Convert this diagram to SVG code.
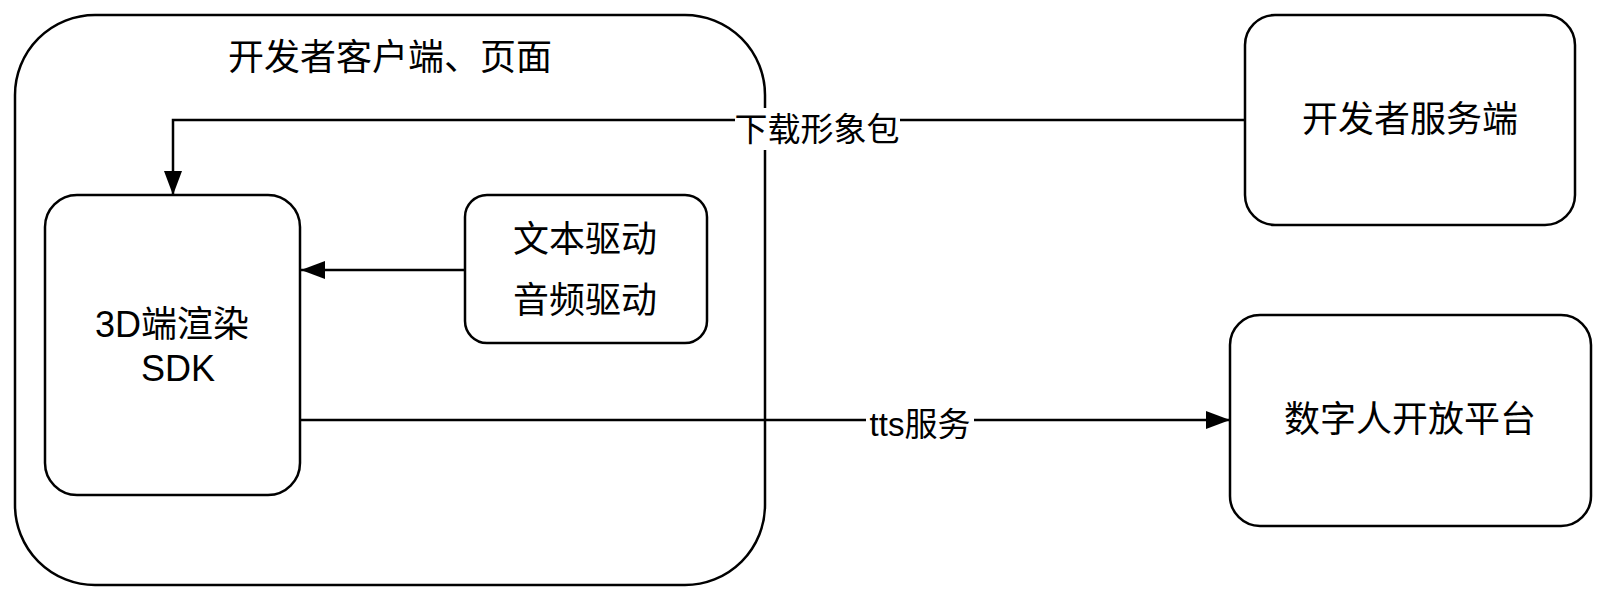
<svg xmlns="http://www.w3.org/2000/svg" width="1610" height="605" viewBox="0 0 1610 605">
  <defs>
    <style>
      .box { fill: #ffffff; stroke: #000000; stroke-width: 2.5; }
      .t { font-family: "Liberation Sans", "Noto Sans CJK SC", sans-serif; font-size: 36px; fill: #000000; text-anchor: middle; }
      .lbl { font-family: "Liberation Sans", "Noto Sans CJK SC", sans-serif; font-size: 33px; fill: #000000; text-anchor: middle; }
      .edge { fill: none; stroke: #000000; stroke-width: 2.5; }
      .lblbg { fill: #ffffff; stroke: none; }
    </style>
    <marker id="arrow" viewBox="0 0 24 18" refX="24" refY="9" markerWidth="24" markerHeight="18" markerUnits="userSpaceOnUse" orient="auto">
      <path d="M0,0 L24,9 L0,18 Z" fill="#000000"/>
    </marker>
  </defs>

  <g id="client">
    <rect class="box" x="15" y="15" width="750" height="570" rx="80" ry="80"/>
    <text class="t" x="390" y="70">开发者客户端、页面</text>
  </g>

  <g id="sdk">
    <rect class="box" x="45" y="195" width="255" height="300" rx="32" ry="32"/>
    <text class="t" x="172" y="337">3D端渲染</text>
    <text class="t" x="178" y="381">SDK</text>
  </g>

  <g id="driver">
    <rect class="box" x="465" y="195" width="242" height="148" rx="22" ry="22"/>
    <text class="t" x="585" y="252">文本驱动</text>
    <text class="t" x="585" y="313">音频驱动</text>
  </g>

  <g id="server">
    <rect class="box" x="1245" y="15" width="330" height="210" rx="30" ry="30"/>
    <text class="t" x="1410" y="132">开发者服务端</text>
  </g>

  <g id="platform">
    <rect class="box" x="1230" y="315" width="361" height="211" rx="30" ry="30"/>
    <text class="t" x="1410" y="432">数字人开放平台</text>
  </g>

  <g id="connectors">
    <path class="edge" d="M1245,120 L173,120 L173,195" marker-end="url(#arrow)"/>
    <rect class="lblbg" x="735" y="108" width="165" height="42"/>
    <text class="lbl" x="817" y="141">下载形象包</text>

    <path class="edge" d="M465,270 L301,270" marker-end="url(#arrow)"/>

    <path class="edge" d="M300,420 L1230,420" marker-end="url(#arrow)"/>
    <rect class="lblbg" x="866" y="404" width="108" height="38"/>
    <text class="lbl" x="920" y="436">tts服务</text>
  </g>
</svg>
